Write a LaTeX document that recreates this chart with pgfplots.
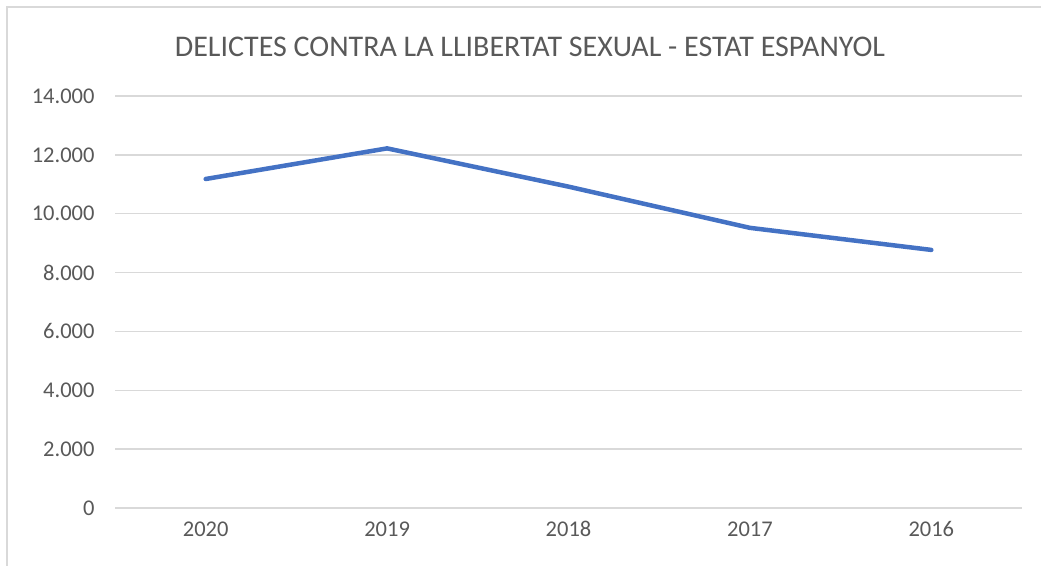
\documentclass[border=0pt]{standalone}
\usepackage{pgfplots}
\pgfplotsset{compat=1.18}
\usepackage{fontspec}
\setmainfont{Carlito}
\definecolor{txt}{RGB}{89,89,89}
\definecolor{grd}{RGB}{217,217,217}
\definecolor{ln}{RGB}{68,114,196}
\begin{document}
\begin{tikzpicture}
\useasboundingbox (0,0) rectangle (1041bp,-566bp);
\draw[grd, line width=1.2bp] (7bp,-600bp) -- (7bp,-7bp) -- (1100bp,-7bp);
\node[txt, font=\fontsize{30bp}{34bp}\selectfont] at (530bp,-47bp) {DELICTES CONTRA LA LLIBERTAT SEXUAL - ESTAT ESPANYOL};
\begin{axis}[
  at={(115bp,-508bp)}, anchor=south west,
  scale only axis, width=907bp, height=412bp,
  xmin=-0.5, xmax=4.5, ymin=0, ymax=14000,
  xtick={0,1,2,3,4}, xticklabels={2020,2019,2018,2017,2016},
  ytick={0,2000,4000,6000,8000,10000,12000,14000},
  scaled y ticks=false,
  axis line style={draw=none},
  major tick length=0,
  ymajorgrids, grid style={grd, line width=1.5bp},
  tick label style={txt, font=\fontsize{22.5bp}{26bp}\selectfont},
  /pgf/number format/.cd, 1000 sep={.}, assume math mode=true,
  /pgfplots/.cd,
  yticklabel style={xshift=-17bp},
  xticklabel style={yshift=-10bp},
  clip=false,
]
\addplot[ln, line width=4.5bp, line cap=round, line join=round] coordinates {
(0,11180) (1,12220) (2,10920) (3,9520) (4,8770)
};
\end{axis}
\end{tikzpicture}
\end{document}
